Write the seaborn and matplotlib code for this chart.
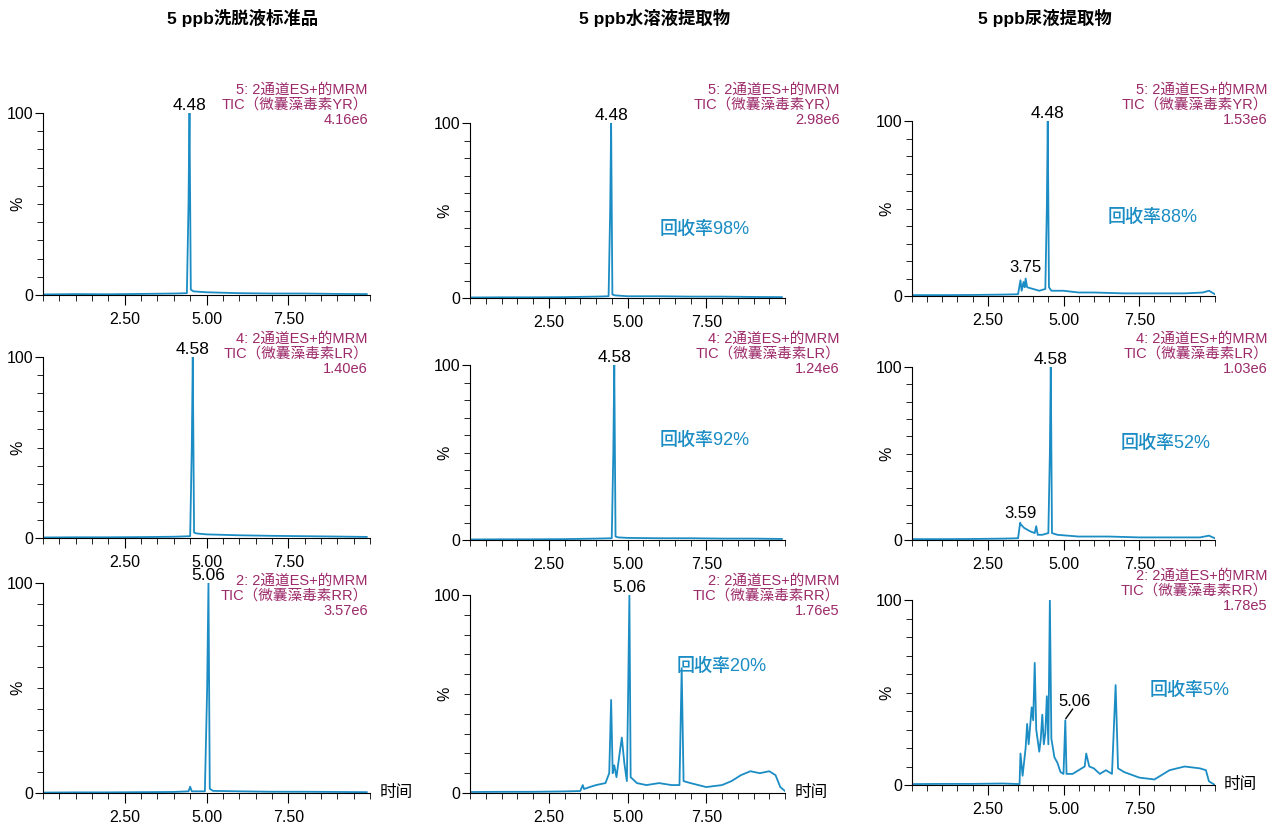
import matplotlib
matplotlib.use("Agg")
import matplotlib.pyplot as plt
import seaborn as sns
import pandas as pd
from matplotlib import font_manager
from matplotlib.ticker import MultipleLocator

cjk = [f for f in font_manager.fontManager.ttflist if "CJK" in f.name]
cjk_sc = [f for f in cjk if "SC" in f.name]
pick = (cjk_sc or cjk)
fams = ["Liberation Sans"]
if pick:
    fams.append(pick[0].name)
plt.rcParams["font.family"] = fams

col_titles = ["5 ppb洗脱液标准品", "5 ppb水溶液提取物", "5 ppb尿液提取物"]
toxins = ["YR", "LR", "RR"]
channels = ["5", "4", "2"]
scales = [["4.16e6", "2.98e6", "1.53e6"],
          ["1.40e6", "1.24e6", "1.03e6"],
          ["3.57e6", "1.76e5", "1.78e5"]]
recovery = [[None, "回收率98%", "回收率88%"],
            [None, "回收率92%", "回收率52%"],
            [None, "回收率20%", "回收率5%"]]

# (time, %) traces
a1_t = [0, 1, 2, 3, 4, 4.40, 4.45, 4.48, 4.52, 4.6, 5, 6, 7, 8, 9, 9.9]
a1_y = [0.3, 0.5, 0.4, 0.6, 0.8, 1, 50, 100, 3, 2, 1.5, 1, 0.8, 0.8, 0.6, 0.5]
a2_t = [0, 1, 2, 3, 4, 4.5, 4.55, 4.58, 4.62, 4.7, 5, 6, 7, 8, 9, 9.9]
a2_y = [0.3, 0.4, 0.4, 0.5, 0.7, 1, 50, 100, 3, 2.5, 2, 1.5, 1.2, 1, 0.8, 0.6]
a3_t = [0, 1, 2, 3, 4, 4.45, 4.5, 4.55, 4.95, 5.02, 5.06, 5.1, 5.2, 6, 7, 8, 9, 9.9]
a3_y = [0.2, 0.3, 0.3, 0.4, 0.5, 0.8, 3, 0.8, 0.8, 50, 100, 2, 1, 0.8, 0.6, 0.6, 0.5, 0.4]
b1_t = [0, 1, 2, 3, 4, 4.40, 4.45, 4.48, 4.52, 4.6, 5, 6, 7, 8, 9, 9.9]
b1_y = [0.3, 0.4, 0.4, 0.5, 0.8, 1, 50, 100, 2, 1.5, 1, 1, 0.8, 0.8, 0.6, 0.5]
b2_t = [0, 1, 2, 3, 4, 4.5, 4.55, 4.58, 4.62, 4.7, 5, 6, 7, 8, 9, 9.9]
b2_y = [0.3, 0.4, 0.4, 0.5, 0.8, 1, 50, 100, 2, 1.5, 1.2, 1, 1, 0.8, 0.8, 0.6]
b3_t = [0, 1, 2, 3, 3.5, 3.58, 3.62, 3.8, 4.0, 4.3, 4.42, 4.48, 4.53, 4.58, 4.65, 4.75,
        4.82, 4.9, 4.98, 5.02, 5.06, 5.1, 5.3, 5.6, 6.0, 6.4, 6.65, 6.72, 6.78, 7.0,
        7.5, 8.0, 8.3, 8.6, 8.9, 9.2, 9.5, 9.7, 9.85, 10]
b3_y = [0.5, 0.6, 0.6, 0.8, 1, 4, 2, 3, 4, 5, 10, 47, 10, 14, 8, 20,
        28, 15, 6, 50, 100, 8, 5, 4, 5, 4, 4, 63, 6, 5,
        3, 4, 6, 9, 11, 10, 11, 9, 3, 1]
c1_t = [0, 1, 2, 3, 3.5, 3.58, 3.62, 3.68, 3.72, 3.75, 3.8, 4.0, 4.2, 4.4, 4.45, 4.48,
        4.52, 4.6, 5, 5.5, 6, 7, 8, 9, 9.6, 9.8, 10]
c1_y = [0.5, 0.5, 0.6, 0.8, 1, 9, 3, 8, 5, 10, 5, 4, 3, 4, 50, 100,
        5, 3, 3, 2, 2, 1.5, 1.5, 1.5, 2, 3, 1]
c2_t = [0, 1, 2, 3, 3.5, 3.57, 3.59, 3.7, 3.9, 4.05, 4.1, 4.15, 4.3, 4.5, 4.55, 4.58,
        4.62, 4.8, 5.5, 6.5, 7.5, 8.5, 9.5, 9.8, 10]
c2_y = [0.5, 0.5, 0.6, 0.8, 1, 10, 9, 7, 5, 4, 8, 3, 3, 4, 50, 100,
        4, 3, 2, 2, 1.5, 1.5, 1.5, 2.5, 1]
c3_t = [0, 1, 2, 3, 3.55, 3.58, 3.65, 3.75, 3.8, 3.85, 3.95, 4.0, 4.05, 4.1, 4.2, 4.25,
        4.3, 4.35, 4.4, 4.45, 4.5, 4.55, 4.6, 4.7, 4.8, 4.9, 5.0, 5.06, 5.1, 5.3,
        5.5, 5.7, 5.75, 5.85, 6.0, 6.2, 6.4, 6.6, 6.72, 6.8, 7.0, 7.5, 8.0, 8.5,
        9.0, 9.5, 9.7, 9.8, 10]
c3_y = [0.5, 0.6, 0.6, 0.8, 0.5, 17, 5, 20, 33, 22, 42, 35, 66, 30, 18, 25,
        38, 22, 28, 48, 22, 100, 25, 15, 12, 7, 6, 35, 6, 6,
        8, 10, 17, 10, 9, 6, 8, 6, 54, 9, 7, 4, 3, 8,
        10, 9, 8, 2, 0]

traces = [[(a1_t, a1_y), (b1_t, b1_y), (c1_t, c1_y)],
          [(a2_t, a2_y), (b2_t, b2_y), (c2_t, c2_y)],
          [(a3_t, a3_y), (b3_t, b3_y), (c3_t, c3_y)]]
peak_labels = [[(4.48, "4.48"), (4.48, "4.48"), (4.48, "4.48")],
               [(4.58, "4.58"), (4.58, "4.58"), (4.58, "4.58")],
               [(5.06, "5.06"), (5.06, "5.06"), None]]
recovery_pos = [[None, (7.46, 39), (7.95, 45)],
                [None, (7.46, 57), (8.38, 56)],
                [None, (8.0, 64), (9.17, 51)]]

W, H = 1280, 832
cols_x = [(43, 370), (470, 785), (912, 1215)]
rows_y = [[(113, 295), (123, 298), (121, 296)],
          [(357, 538), (365, 540), (367, 540)],
          [(583, 793), (595, 793), (600, 785)]]
info_y = [[92, 92, 92], [341, 341, 341], [583, 583, 578]]
info_x = [368, 840, 1268]

line_c = "#1b8dc4"
mag = "#9c2a6a"
rec_c = "#1b8dc4"

fig = plt.figure(figsize=(12.8, 8.32), dpi=100)
for j, t in enumerate(col_titles):
    fig.text([243, 655, 1045][j] / W, 1 - 18 / H, t, ha="center", va="center",
             fontsize=12.5, fontweight="bold")

axes = []
for i in range(3):
    for j in range(3):
        l, r = cols_x[j]
        tp, bt = rows_y[i][j]
        ax = fig.add_axes([l / W, 1 - bt / H, (r - l) / W, (bt - tp) / H])
        axes.append(ax)
        t, y = traces[i][j]
        df = pd.DataFrame({"t": t, "y": y})
        sns.lineplot(data=df, x="t", y="y", ax=ax, color=line_c, lw=1.3,
                     estimator=None, sort=False)
        ax.set_xlim(0, 10)
        ax.set_ylim(0, 100)
        for s in ["top", "right"]:
            ax.spines[s].set_visible(False)
        ax.set_xticks([2.5, 5.0, 7.5])
        ax.set_xticklabels(["2.50", "5.00", "7.50"])
        ax.xaxis.set_minor_locator(MultipleLocator(0.5))
        ax.set_yticks([0, 100])
        ax.yaxis.set_minor_locator(MultipleLocator(10))
        ax.tick_params(axis="both", labelsize=11.5, direction="out")
        ax.tick_params(axis="x", which="major", length=7, pad=5)
        ax.tick_params(axis="x", which="minor", length=4)
        ax.tick_params(axis="y", which="major", length=6, pad=1)
        ax.tick_params(axis="y", which="minor", length=4)
        ax.set_xlabel("")
        ax.set_ylabel("%", fontsize=11.5)
        ax.yaxis.set_label_coords(-18 / (r - l), 0.5)
        fig.text(info_x[j] / W, 1 - (info_y[i][j] - 9) / H,
                 f"{channels[i]}: 2通道ES+的MRM\nTIC（微囊藻毒素{toxins[i]}）\n{scales[i][j]}",
                 ha="right", va="top", color=mag, fontsize=10.5, linespacing=1.08)
        pl = peak_labels[i][j]
        if pl:
            ax.text(pl[0], 100, pl[1], ha="center", va="bottom", fontsize=12.5)
        if recovery[i][j]:
            xx, yy = recovery_pos[i][j]
            ax.text(xx, yy, recovery[i][j], ha="center", va="center",
                    color=rec_c, fontsize=13, fontweight="medium")
        if i == 2:
            ax.text(1.03, 0, "时间", transform=ax.transAxes, ha="left",
                    va="center", fontsize=12)

axes[2].text(3.75, 12, "3.75", ha="center", va="bottom", fontsize=12)
axes[5].text(3.59, 11, "3.59", ha="center", va="bottom", fontsize=12)
axes[8].plot([5.08, 5.3], [36, 41], color="black", lw=1)
axes[8].text(5.35, 41, "5.06", ha="center", va="bottom", fontsize=12)

fig.savefig("out.png", dpi=100)
